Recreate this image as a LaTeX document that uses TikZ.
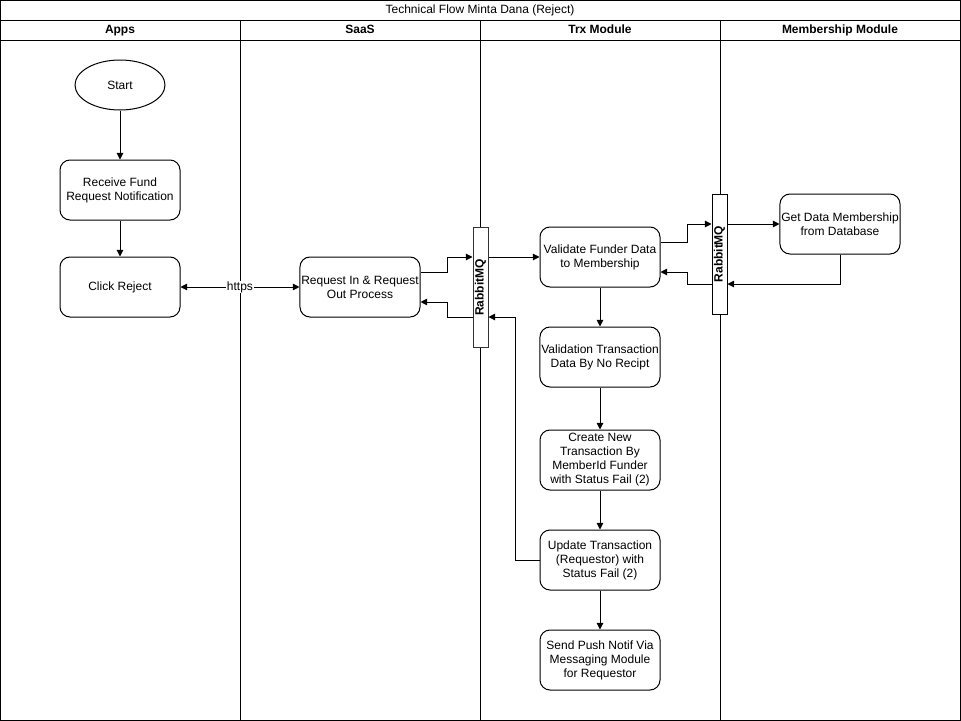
\documentclass[tikz,border=0pt]{standalone}
\usepackage{fontspec}
\setmainfont{Liberation Sans}
\usetikzlibrary{arrows.meta,shapes.geometric}
\begin{document}
\begin{tikzpicture}[x=0.75pt,y=-0.75pt,
  font=\fontsize{9}{10.5}\selectfont,
  box/.style={draw,rounded corners=7.5pt,minimum width=90pt,minimum height=45pt,align=center,inner sep=1pt,line width=0.75pt},
  mq/.style={draw,minimum width=11.25pt,minimum height=90pt,inner sep=0pt,line width=0.75pt},
  hdr/.style={font=\fontsize{9}{10.5}\selectfont\bfseries,text height=6.5pt,text depth=2pt,inner sep=0pt},
  arr/.style={-{Triangle[width=5pt,length=5pt]},line width=0.75pt},
  lane/.style={line width=0.75pt}]
\useasboundingbox (0,0) rectangle (961,721);
% frame
\draw[lane] (0.5,0.5) rectangle (960.5,720.5);
\draw[lane] (0.5,20) -- (960.5,20);
\draw[lane] (0.5,40) -- (960.5,40);
\draw[lane] (240,20) -- (240,720.5);
\draw[lane] (480,20) -- (480,720.5);
\draw[lane] (720,20) -- (720,720.5);
\node[text height=6.5pt,text depth=2pt,inner sep=0pt] (title) at (480,10) {Technical Flow Minta Dana (Reject)};
\node[hdr] (h1) at (120,30) {Apps};
\node[hdr] (h2) at (360,30) {SaaS};
\node[hdr] (h3) at (600,30) {Trx Module};
\node[hdr] (h4) at (840,30) {Membership Module};
% nodes
\node[draw,ellipse,minimum width=67.5pt,minimum height=37.5pt,line width=0.75pt,fill=white] (start) at (120,85) {Start};
\node[box,fill=white] (recv) at (120,190) {Receive Fund\\Request Notification};
\node[box,fill=white] (click) at (120,287) {Click Reject};
\node[box,fill=white] (req) at (360,287) {Request In \& Request\\Out Process};
\node[mq,fill=white,draw=black!80] (mq1) at (480.5,287.5) {};
\node[rotate=90,font=\fontsize{9}{10.5}\selectfont\bfseries] (mq1t) at (480.5,287.5) {RabbitMQ};
\node[box,fill=white] (val) at (600,257) {Validate Funder Data\\to Membership};
\node[mq,fill=white] (mq2) at (719.5,254) {};
\node[rotate=90,font=\fontsize{9}{10.5}\selectfont\bfseries] (mq2t) at (719.5,254) {RabbitMQ};
\node[box,fill=white] (getd) at (840,224) {Get Data Membership\\from Database};
\node[box,fill=white] (vtx) at (600,357) {Validation Transaction\\Data By No Recipt};
\node[box,fill=white] (create) at (600,460) {Create New\\Transaction By\\MemberId Funder\\with Status Fail (2)};
\node[box,fill=white] (upd) at (600,560) {Update Transaction\\(Requestor) with\\Status Fail (2)};
\node[box,fill=white] (send) at (600,660) {Send Push Notif Via\\Messaging Module\\for Requestor};
% connectors
\draw[arr] (start) -- (recv);
\draw[arr] (recv) -- (click);
\draw[{Triangle[width=5pt,length=5pt]}-{Triangle[width=5pt,length=5pt]},line width=0.75pt] (click) -- node[fill=white,inner sep=0.5pt] (https) {https} (req);
\coordinate (r1) at (req.east |- 0,272);
\draw[arr] (r1) -- (447,272) -- (447,257) -- (mq1.west |- 0,257);
\coordinate (m1) at (mq1.west |- 0,317);
\draw[arr] (m1) -- (447,317) -- (447,302) -- (req.east |- 0,302);
\draw[arr] (mq1.east |- 0,257) -- (val.west);
\coordinate (v1) at (val.east |- 0,242);
\draw[arr] (v1) -- (687,242) -- (687,224) -- (mq2.west |- 0,224);
\coordinate (m2) at (mq2.west |- 0,284);
\draw[arr] (m2) -- (687,284) -- (687,272) -- (val.east |- 0,272);
\draw[arr] (mq2.east |- 0,224) -- (getd.west);
\draw[arr] (getd.south) -- (840,284) -- (mq2.east |- 0,284);
\draw[arr] (val) -- (vtx);
\draw[arr] (vtx) -- (create);
\draw[arr] (create) -- (upd);
\draw[arr] (upd) -- (send);
\draw[arr] (upd.west) -- (515,560) -- (515,317) -- (mq1.east |- 0,317);
\end{tikzpicture}
\end{document}
